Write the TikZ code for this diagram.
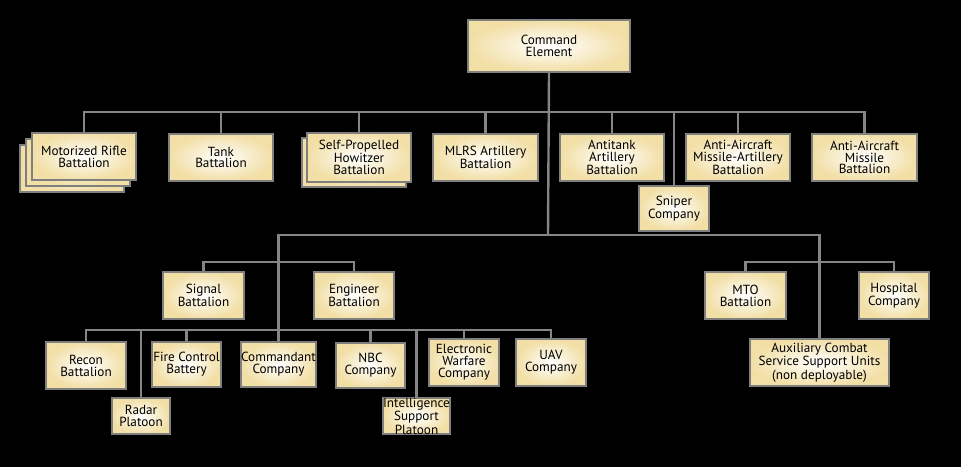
\documentclass[tikz,border=0pt]{standalone}
\usepackage{fontspec}
\setmainfont{PT Sans}
\usepackage{tikz}

\definecolor{unitcream}{HTML}{F2DFA6}
\definecolor{unitedge}{HTML}{7F7F7F}
\definecolor{linkgray}{HTML}{858585}

\tikzset{
    unit/.style={draw=unitedge, line width=1.5pt, shade, shading=radial,
        inner color=white, outer color=unitcream, inner sep=0pt,
        align=center, font=\fontsize{9.9}{8.9}\selectfont},
    boxsize/.style 2 args={minimum width=#1*0.75pt, minimum height=#2*0.75pt},
    link/.style={draw=linkgray, line width=1.8pt}
}

\begin{document}
\begin{tikzpicture}[x=0.75pt, y=-0.75pt]
    \fill [black] (0,0) rectangle (961,467);

    % command and the battalions under it
    \node [unit, boxsize={162}{52}] (cmd) at (549,46) {Command\\Element};

    \foreach \d in {12,6}{%
        \node [unit, boxsize={104}{47}] (rifle\d) at (84-\d,156.5+\d) {};}
    \node [unit, boxsize={104}{47}] (rifle) at (84,156.5) {Motorized Rifle\\Battalion};
    \node [unit, boxsize={104}{47}] (tank) at (221,157.5) {Tank\\Battalion};
    \node [unit, boxsize={104}{49}] (howb) at (354,162.5) {};
    \node [unit, boxsize={104}{49}] (how) at (359,157.5) {Self-Propelled\\Howitzer\\Battalion};
    \node [unit, boxsize={105}{47}] (mlrs) at (485.5,157.5) {MLRS Artillery\\Battalion};
    \node [unit, boxsize={104}{47}] (atank) at (612,157.5) {Antitank\\Artillery\\Battalion};
    \node [unit, boxsize={70}{45}] (sniper) at (674,208.5) {Sniper\\Company};
    \node [unit, boxsize={104}{47}] (aamart) at (738,157.5) {Anti-Aircraft\\Missile-Artillery\\Battalion};
    \node [unit, boxsize={105}{47}] (aam) at (864.5,157.5) {Anti-Aircraft\\Missile\\Battalion};

    % support units
    \node [unit, boxsize={81}{47}] (signal) at (203.5,295.5) {Signal\\Battalion};
    \node [unit, boxsize={80}{47}] (eng) at (354,295.5) {Engineer\\Battalion};
    \node [unit, boxsize={81}{47}] (mto) at (745.5,295.5) {MTO\\Battalion};
    \node [unit, boxsize={70}{47}] (hosp) at (894,295.5) {Hospital\\Company};
    \node [unit, boxsize={139}{47}] (aux) at (819.5,362.5) {Auxiliary Combat\\Service Support Units\\(non deployable)};

    \node [unit, boxsize={80}{47}] (recon) at (86,365.5) {Recon\\Battalion};
    \node [unit, boxsize={58}{36}] (radar) at (141,416) {Radar\\Platoon};
    \node [unit, boxsize={69}{45}] (fire) at (186.5,364.5) {Fire Control\\Battery};
    \node [unit, boxsize={69}{45}] (comdt) at (278.5,364.5) {Commandant\\Company};
    \node [unit, boxsize={69}{45}] (nbc) at (370.5,365.5) {NBC\\Company};
    \node [unit, boxsize={59}{36}] (intel) at (416.5,416) {Intelligence\\Support\\Platoon};
    \node [unit, boxsize={70}{47}] (ew) at (464,362.5) {Electronic\\Warfare\\Company};
    \node [unit, boxsize={70}{47}] (uav) at (551,362.5) {UAV\\Company};

    % connectors
    \coordinate (bus1) at (548,112);
    \coordinate (bus2) at (548,235);
    \coordinate (bus3) at (278,330);
    \coordinate (bus4) at (278,262);
    \coordinate (bus5) at (820,262);

    \draw [link] (cmd.south) -- (bus2);
    \foreach \n in {rifle,tank,how,mlrs,atank,sniper,aamart,aam}{%
        \draw [link] (\n.north) |- (bus1);}
    \draw [link] (bus2) -| (comdt.north);
    \draw [link] (bus2) -| (aux.north);
    \draw [link] (signal.north) |- (bus4) -| (eng.north);
    \draw [link] (mto.north) |- (bus5) -| (hosp.north);
    \foreach \n in {recon,radar,fire,nbc,intel,ew,uav}{%
        \draw [link] (\n.north) |- (bus3);}
\end{tikzpicture}
\end{document}
